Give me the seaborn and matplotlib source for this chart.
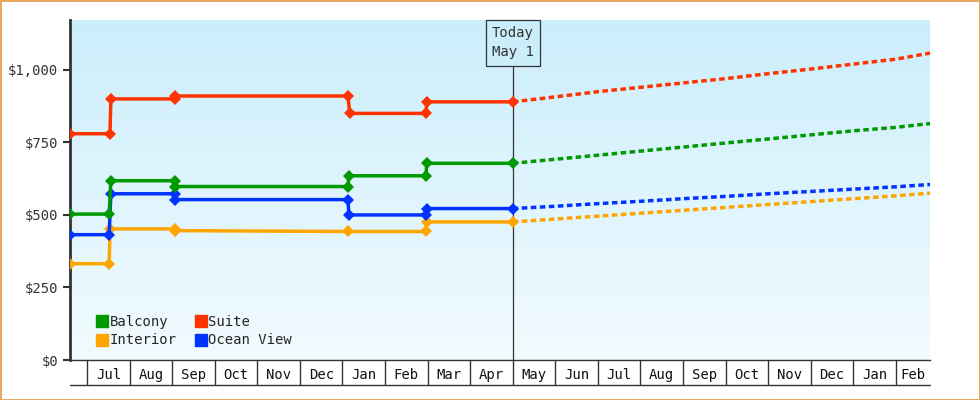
import numpy as np
import pandas as pd
import matplotlib
matplotlib.use("Agg")
import matplotlib.pyplot as plt
import seaborn as sns

sns.set_style("white")
plt.rcParams['font.family'] = ['DejaVu Sans Mono']

months = ["Jul","Aug","Sep","Oct","Nov","Dec","Jan","Feb","Mar","Apr","May","Jun","Jul","Aug","Sep","Oct","Nov","Dec","Jan","Feb"]
# x in months since Jul 1
hist_x = {
    "Suite":       [-0.4, 0.54, 0.56, 2.07, 2.07, 6.13, 6.17, 7.96, 7.98, 10.0],
    "Balcony":     [-0.4, 0.52, 0.56, 2.07, 2.07, 6.13, 6.15, 7.96, 7.98, 10.0],
    "Ocean View":  [-0.4, 0.52, 0.56, 2.07, 2.07, 6.13, 6.15, 7.96, 7.98, 10.0],
    "Interior":    [-0.4, 0.52, 0.54, 2.07, 2.07, 6.13, 7.96, 7.98, 10.0],
}
hist_y = {
    "Suite":       [780, 780, 900, 900, 910, 910, 850, 850, 890, 890],
    "Balcony":     [503, 503, 618, 618, 598, 598, 635, 635, 678, 678],
    "Ocean View":  [432, 432, 573, 573, 553, 553, 500, 500, 522, 522],
    "Interior":    [332, 332, 452, 452, 446, 443, 443, 476, 476],
}
fc_x = [10, 11, 12, 13, 14, 15, 16, 17, 18, 19, 19.8]
fc_y = {
    "Suite":      [890, 907, 925, 940, 955, 970, 987, 1003, 1020, 1037, 1058],
    "Balcony":    [678, 692, 706, 720, 734, 748, 762, 776, 790, 802, 815],
    "Ocean View": [522, 530, 539, 547, 556, 564, 573, 581, 589, 597, 605],
    "Interior":   [476, 486, 496, 506, 516, 526, 536, 546, 556, 566, 575],
}
colors = {"Balcony": "#009900", "Suite": "#ff3300", "Interior": "#ffa500", "Ocean View": "#0033ff"}

fig = plt.figure(figsize=(9.8, 4.0), dpi=100)
fig.patch.set_edgecolor("#e8a860")
fig.patch.set_linewidth(2)
ax = fig.add_axes([70/980, 40/400, 860/980, 340/400])
xmin, xmax = -0.4, 19.8
ax.set_xlim(xmin, xmax)
ax.set_ylim(0, 1172)

grad = np.linspace(0, 1, 256).reshape(-1, 1)
cmap = matplotlib.colors.LinearSegmentedColormap.from_list("g", ["#f2fbff", "#cbeefb"])
ax.imshow(grad, extent=[xmin, xmax, 0, 1172], origin="lower", aspect="auto", cmap=cmap, zorder=0)

for name in ["Interior", "Ocean View", "Balcony", "Suite"]:
    df = pd.DataFrame({"x": hist_x[name], "y": hist_y[name]})
    sns.lineplot(data=df, x="x", y="y", ax=ax, color=colors[name], lw=2.5, sort=False,
                 estimator=None, marker="D", markersize=6, markeredgewidth=0, zorder=3)
    df2 = pd.DataFrame({"x": fc_x, "y": fc_y[name]})
    sns.lineplot(data=df2, x="x", y="y", ax=ax, color=colors[name], lw=2.5, sort=False,
                 estimator=None, linestyle=(0, (1.6, 1.0)), zorder=3)

ax.axvline(10, color="#333333", lw=0.9, zorder=2)
ax.text(10, 1172 - 22, "Today\nMay 1", ha="center", va="top", fontsize=10, color="#333333",
        linespacing=1.45, zorder=5,
        bbox=dict(boxstyle="square,pad=0.45", fc="#cbeefb", ec="#333333", lw=0.9))

ax.set_yticks([0, 250, 500, 750, 1000])
ax.set_yticklabels(["$0", "$250", "$500", "$750", "$1,000"], fontsize=10, color="#333333")
ax.tick_params(axis="y", length=5, width=1.5, color="#333333", direction="out", left=True)
ax.set_xticks(np.arange(0, 20))
ax.set_xticklabels([])
ax.tick_params(axis="x", which="major", length=18, width=1, color="#333333", bottom=True)
ax.set_xticks(np.append(np.arange(0.5, 19.5, 1), 19.4), minor=True)
ax.set_xticklabels(months, minor=True, fontsize=10, color="#111111")
ax.tick_params(axis="x", which="minor", length=0, pad=6)
ax.plot([0, 1], [-25/340, -25/340], transform=ax.transAxes, color="#333333", lw=1, clip_on=False)
ax.set_xlabel("")
ax.set_ylabel("")
for s in ["top", "right"]:
    ax.spines[s].set_visible(False)
ax.spines["left"].set_linewidth(2)
ax.spines["left"].set_color("#333333")
ax.spines["bottom"].set_linewidth(1)
ax.spines["bottom"].set_color("#333333")

from matplotlib.lines import Line2D
handles = [Line2D([], [], marker="s", ls="", color=colors[n], markersize=8) for n in ["Balcony", "Interior", "Suite", "Ocean View"]]
ax.legend(handles, ["Balcony", "Interior", "Suite", "Ocean View"], ncol=2, loc="lower left",
          bbox_to_anchor=(0.015, 0.0), frameon=False, fontsize=10, handletextpad=0.05,
          columnspacing=1.2, labelspacing=0.3, handlelength=1)

fig.savefig("out.png", dpi=100)
